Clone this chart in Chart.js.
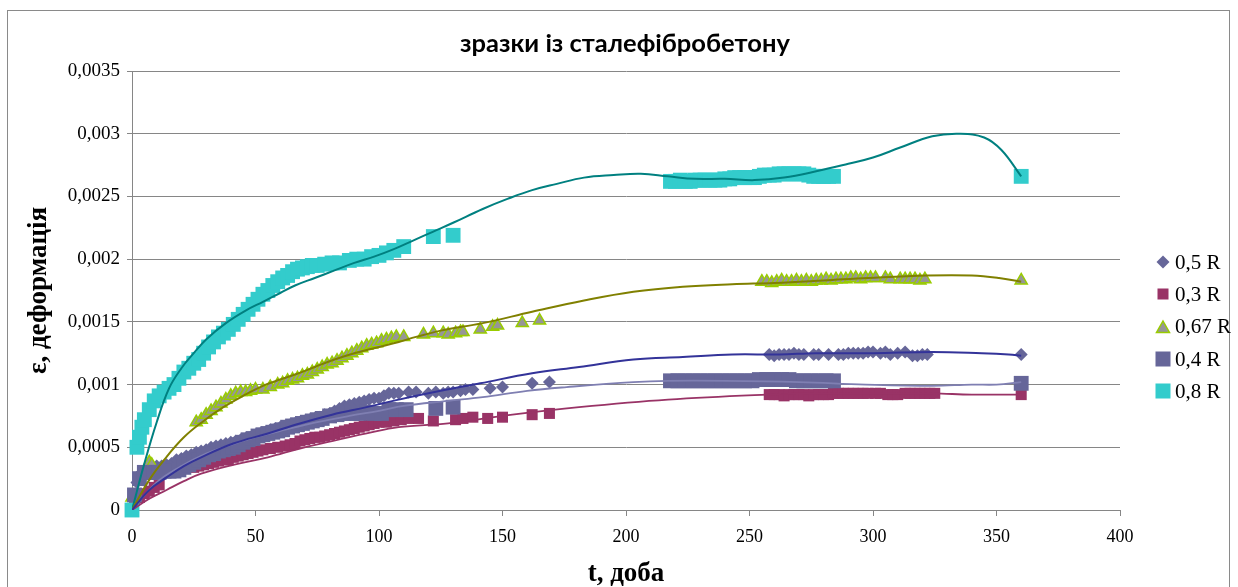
<!DOCTYPE html>
<html>
<head>
<meta charset="utf-8">
<script src="https://cdn.jsdelivr.net/npm/chart.js@4.4.0/dist/chart.umd.min.js"></script>
<style>
  html, body { margin: 0; padding: 0; background: #fff; }
  #wrap { position: relative; width: 1238px; height: 587px; overflow: hidden; }
  #frame { position: absolute; left: 7px; top: 10px; width: 1223px; height: 640px; border: 1.5px solid #8a8a8a; box-sizing: border-box; }
  #chart { position: absolute; left: 0; top: 0; }
  #title { position: absolute; left: 325px; top: 27px; width: 600px; height: 30px; line-height: 30px; text-align: center;
           font: bold 25.5px Lato, 'Liberation Sans', Arial, sans-serif; color: #000; }
  .legend { position: absolute; left: 1154px; top: 246px; font: 21px 'Liberation Serif', 'Times New Roman', serif; color: #000; }
  .legend div { display: flex; align-items: center; height: 32.3px; }
  .legend svg { width: 18px; height: 18px; margin-right: 3px; }
</style>
</head>
<body>
<div id="wrap">
  <div id="frame"></div>
  <canvas id="chart" width="1238" height="587"></canvas>
  <div id="title">зразки із сталефібробетону</div>
  <div class="legend">
    <div><svg viewBox="0 0 18 18"><polygon points="9,2.5 15.5,9 9,15.5 2.5,9" fill="#666699"/></svg>0,5 R</div>
    <div><svg viewBox="0 0 18 18"><rect x="3.5" y="3.5" width="11" height="11" fill="#993366"/></svg>0,3 R</div>
    <div><svg viewBox="0 0 18 18"><polygon points="9,3 15.5,14.5 2.5,14.5" fill="#969696" stroke="#99CC00" stroke-width="1.5"/></svg>0,67 R</div>
    <div><svg viewBox="0 0 18 18"><rect x="1.5" y="1.5" width="15" height="15" fill="#666699"/></svg>0,4 R</div>
    <div><svg viewBox="0 0 18 18"><rect x="1.5" y="1.5" width="15" height="15" fill="#33CCCC"/></svg>0,8 R</div>
  </div>
</div>
<script>
// tick labels
const xTickLabels = ['0', '50', '100', '150', '200', '250', '300', '350', '400'];
const yTickLabels = ['0', '0,0005', '0,001', '0,0015', '0,002', '0,0025', '0,003', '0,0035'];

// 0,5 R (diamonds)
const r05Days = [0, 2, 4, 6, 8, 10, 12, 14, 16, 18, 20, 22, 24, 26, 28, 30, 32, 34, 36, 38, 40, 42, 44, 46, 48, 50,
  52, 54, 56, 58, 60, 62, 64, 66, 68, 70, 72, 74, 76, 78, 80, 82, 84, 86, 88, 90, 92, 94, 96, 98, 100,
  102, 104, 106, 108, 112, 115, 120, 123, 126, 128, 130, 133, 135, 138, 145, 150, 162, 169,
  258, 260, 262, 264, 266, 268, 270, 272, 276, 278, 282, 286, 288, 290, 292, 294, 296, 298, 300, 303, 305, 307, 310, 313, 316, 318, 320, 322, 360];
const r05Vals = [0, 0.00022, 0.0003, 0.00033, 0.00034, 0.00035, 0.00035, 0.00036, 0.00037, 0.0004, 0.00041, 0.00043, 0.00044, 0.00046, 0.00047, 0.00048, 0.0005, 0.00051, 0.00052, 0.00053, 0.00054, 0.00055, 0.00056, 0.00057, 0.00058, 0.0006,
  0.00061, 0.00062, 0.00064, 0.00065, 0.00066, 0.00067, 0.00068, 0.00069, 0.0007, 0.00071, 0.00072, 0.00073, 0.00074, 0.00076, 0.00077, 0.00079, 0.00081, 0.00083, 0.00084, 0.00085, 0.00086, 0.00087, 0.00088, 0.00089, 0.00089,
  0.00091, 0.00093, 0.00093, 0.00093, 0.00094, 0.00094, 0.00093, 0.00094, 0.00093, 0.00094, 0.00094, 0.00095, 0.00096, 0.00096, 0.00097, 0.00098, 0.00101, 0.00102,
  0.00124, 0.00123, 0.00124, 0.00124, 0.00124, 0.00125, 0.00124, 0.00124, 0.00124, 0.00124, 0.00124, 0.00124, 0.00124, 0.00125, 0.00125, 0.00125, 0.00125, 0.00126, 0.00126, 0.00125, 0.00126, 0.00124, 0.00125, 0.00126, 0.00123, 0.00123, 0.00124, 0.00124, 0.00124];

// 0,3 R (small squares)
const r03Days = [1, 3, 5, 7, 9, 11, 25, 27, 29, 31, 33, 35, 37, 39, 41, 43, 45, 47, 49, 51, 53, 56, 59, 62, 64, 66, 68, 70, 72, 74, 76, 78, 80,
  82, 84, 86, 88, 90, 92, 94, 96, 98, 100, 103, 106, 109, 112, 116, 122, 131, 134, 138, 144, 150, 162, 169,
  258, 260, 262, 264, 266, 268, 270, 272, 274, 276, 278, 280, 282, 284, 286, 288, 290, 292, 294, 296, 298, 301, 303, 306, 308, 310, 313, 315, 317, 319, 321, 323, 325, 360];
const r03Vals = [0.00008, 0.0001, 0.00013, 0.00015, 0.00018, 0.0002, 0.00034, 0.00035, 0.00036, 0.00037, 0.00038, 0.00039, 0.0004, 0.0004, 0.00042, 0.00043, 0.00044, 0.00045, 0.00046, 0.00047, 0.00048, 0.00049, 0.0005, 0.00051, 0.00052, 0.00053, 0.00055, 0.00056, 0.00057, 0.00058, 0.00058, 0.00059, 0.0006,
  0.00061, 0.00062, 0.00063, 0.00064, 0.00065, 0.00066, 0.00067, 0.00068, 0.00069, 0.0007, 0.0007, 0.00071, 0.00072, 0.00073, 0.00073, 0.00071, 0.00072, 0.00073, 0.00074, 0.00073, 0.00074, 0.00076, 0.00077,
  0.00092, 0.00092, 0.00092, 0.00091, 0.00092, 0.00092, 0.00092, 0.00092, 0.00091, 0.00092, 0.00092, 0.00092, 0.00092, 0.00093, 0.00093, 0.00093, 0.00093, 0.00093, 0.00093, 0.00093, 0.00093, 0.00093, 0.00093, 0.00092, 0.00092, 0.00092, 0.00093, 0.00093, 0.00093, 0.00093, 0.00093, 0.00093, 0.00093, 0.00092];

// 0,67 R (triangles)
const r067Days = [0, 1, 7, 8, 26, 28, 30, 32, 34, 36, 38, 40, 42, 44, 46, 48, 50, 53, 56, 59, 61, 63, 65, 67, 69, 71, 73, 75, 77, 79, 81, 83, 85, 87, 89,
  91, 93, 95, 97, 99, 101, 103, 105, 107, 110, 118, 122, 126, 128, 131, 133, 134, 141, 146, 148, 158, 165,
  255, 257, 259, 261, 263, 265, 267, 269, 271, 273, 275, 277, 279, 281, 283, 285, 287, 289, 291, 293, 295, 297, 299, 301, 305, 307, 311, 313, 315, 317, 319, 321, 360];
const r067Vals = [0.0001, 0.0001, 0.00038, 0.00036, 0.0007, 0.00072, 0.00076, 0.00079, 0.00082, 0.00085, 0.00088, 0.00091, 0.00093, 0.00094, 0.00094, 0.00095, 0.00096, 0.00096, 0.00098, 0.001, 0.00101, 0.00103, 0.00104, 0.00105, 0.00107, 0.00108, 0.0011, 0.00112, 0.00114, 0.00116, 0.00117, 0.00119, 0.00121, 0.00123, 0.00125,
  0.00127, 0.00129, 0.00131, 0.00132, 0.00133, 0.00135, 0.00136, 0.00137, 0.00138, 0.00138, 0.0014, 0.00141, 0.00141, 0.0014, 0.00141, 0.00142, 0.00142, 0.00144, 0.00146, 0.00147, 0.00149, 0.00151,
  0.00182, 0.00182, 0.00181, 0.00182, 0.00183, 0.00182, 0.00182, 0.00183, 0.00182, 0.00183, 0.00182, 0.00183, 0.00183, 0.00184, 0.00183, 0.00184, 0.00184, 0.00184, 0.00185, 0.00185, 0.00184, 0.00185, 0.00185, 0.00185, 0.00185, 0.00184, 0.00184, 0.00184, 0.00184, 0.00184, 0.00183, 0.00184, 0.00183];

// 0,4 R (big squares)
const r04Days = [1, 3, 5, 7, 9, 11, 13, 15, 17, 19, 21, 23, 25, 27, 29, 31, 33, 35, 37, 39, 41, 43, 45, 47, 49, 51, 53, 55, 57, 59, 61, 63, 65, 67, 69, 71, 73, 75, 77,
  80, 83, 86, 89, 92, 95, 98, 101, 104, 107, 111, 123, 130,
  218, 221, 224, 227, 230, 233, 236, 239, 242, 245, 248, 251, 254, 257, 260, 263, 266, 269, 272, 275, 278, 281, 284, 360];
const r04Vals = [0.00012, 0.00025, 0.0003, 0.0003, 0.0003, 0.0003, 0.00031, 0.00031, 0.00031, 0.00032, 0.00034, 0.00036, 0.00038, 0.0004, 0.00042, 0.00044, 0.00045, 0.00047, 0.00048, 0.00049, 0.0005, 0.00052, 0.00054, 0.00056, 0.00057, 0.00059, 0.0006, 0.00061, 0.00062, 0.00063, 0.00064, 0.00066, 0.00067, 0.00068, 0.00069, 0.0007, 0.00071, 0.00072, 0.00073,
  0.00075, 0.00076, 0.00077, 0.00077, 0.00077, 0.00078, 0.00077, 0.00077, 0.0008, 0.0008, 0.0008, 0.00081, 0.00082,
  0.00103, 0.00103, 0.00103, 0.00103, 0.00103, 0.00103, 0.00103, 0.00103, 0.00103, 0.00103, 0.00103, 0.00103, 0.00104, 0.00104, 0.00104, 0.00104, 0.00104, 0.00103, 0.00103, 0.00103, 0.00103, 0.00103, 0.00103, 0.00101];

// 0,8 R (cyan squares)
const r08Days = [0, 2, 3, 4, 5, 7, 9, 11, 13, 15, 17, 19, 21, 23, 25, 27, 29, 31, 33, 35, 37, 39, 41, 43, 45, 47, 49, 51, 53, 55, 57, 59, 61, 63, 65, 67, 69, 71, 73, 75,
  78, 81, 84, 88, 91, 94, 97, 100, 103, 106, 110, 122, 130,
  218, 220, 222, 224, 226, 228, 230, 232, 234, 236, 238, 240, 242, 244, 246, 248, 250, 252, 254, 256, 258, 260, 262, 264, 266, 268, 270, 272, 274, 276, 278, 280, 282, 284, 360];
const r08Vals = [0, 0.0005, 0.00058, 0.00066, 0.00072, 0.0008, 0.00087, 0.00091, 0.00094, 0.00097, 0.001, 0.00105, 0.0011, 0.00113, 0.00117, 0.0012, 0.00125, 0.0013, 0.00134, 0.00138, 0.00141, 0.00144, 0.00148, 0.00152, 0.00156, 0.0016, 0.00164, 0.00168, 0.00172, 0.00175, 0.00179, 0.00182, 0.00185, 0.00187, 0.0019, 0.00192, 0.00193, 0.00194, 0.00195, 0.00195,
  0.00196, 0.00197, 0.00197, 0.00199, 0.002, 0.002, 0.00202, 0.00203, 0.00205, 0.00207, 0.0021, 0.00218, 0.00219,
  0.00262, 0.00262, 0.00263, 0.00262, 0.00262, 0.00263, 0.00263, 0.00263, 0.00263, 0.00263, 0.00263, 0.00264, 0.00264, 0.00265, 0.00265, 0.00265, 0.00265, 0.00265, 0.00266, 0.00267, 0.00267, 0.00267, 0.00268, 0.00268, 0.00268, 0.00268, 0.00268, 0.00268, 0.00267, 0.00266, 0.00266, 0.00266, 0.00266, 0.00266, 0.00266];

// trend lines
const t05Days = [0, 7, 14, 21, 28, 41, 55, 68, 81, 95, 108, 125, 141, 162, 181, 203, 223, 243, 262, 277, 300, 324, 344, 355, 360];
const t05Vals = [0, 0.00016, 0.00026, 0.00035, 0.00042, 0.00053, 0.00061, 0.00069, 0.00076, 0.00082, 0.00088, 0.00095, 0.00101, 0.00109, 0.00114, 0.0012, 0.00122, 0.00124, 0.00124, 0.00125, 0.00125, 0.00126, 0.00125, 0.00124, 0.00123];
const t03Days = [0, 7, 14, 21, 28, 41, 55, 68, 81, 95, 108, 128, 154, 181, 217, 257, 277, 300, 324, 340, 360];
const t03Vals = [0, 0.00009, 0.00016, 0.00023, 0.00029, 0.00036, 0.00042, 0.00049, 0.00055, 0.00061, 0.00066, 0.00069, 0.00076, 0.00082, 0.00088, 0.00092, 0.00093, 0.00093, 0.00093, 0.00092, 0.00092];
const t067Days = [0, 7, 13, 21, 29, 37, 45, 53, 60, 66, 74, 82, 90, 98, 108, 115, 125, 142, 162, 183, 203, 223, 243, 260, 280, 298, 322, 340, 351, 360];
const t067Vals = [0, 0.00024, 0.0004, 0.00058, 0.00071, 0.00082, 0.00091, 0.00099, 0.00104, 0.00108, 0.00114, 0.0012, 0.00125, 0.00129, 0.00134, 0.00138, 0.00143, 0.00149, 0.00158, 0.00167, 0.00174, 0.00178, 0.0018, 0.00181, 0.00183, 0.00185, 0.00187, 0.00187, 0.00185, 0.00182];
const t04Days = [0, 10, 20, 30, 40, 50, 62, 75, 88, 100, 110, 128, 142, 160, 176, 203, 217, 240, 270, 297, 324, 340, 350, 360];
const t04Vals = [0, 0.00022, 0.00035, 0.00045, 0.00052, 0.00058, 0.00064, 0.0007, 0.00075, 0.00079, 0.00083, 0.00087, 0.0009, 0.00095, 0.00098, 0.00102, 0.00103, 0.00103, 0.00102, 0.001, 0.00099, 0.001, 0.001, 0.00102];
const t08Days = [0, 5, 10, 15, 20, 25, 30, 38, 46, 53, 60, 66, 74, 82, 90, 98, 106, 114, 122, 130, 142, 152, 162, 172, 183, 195, 206, 217, 228, 240, 252, 264, 277, 290, 300, 311, 324, 335, 345, 352, 360];
const t08Vals = [0, 0.00037, 0.0007, 0.00097, 0.00113, 0.00125, 0.00136, 0.00149, 0.00159, 0.00166, 0.00173, 0.00179, 0.00185, 0.00191, 0.00197, 0.00202, 0.00208, 0.00215, 0.00222, 0.00229, 0.0024, 0.00248, 0.00255, 0.0026, 0.00265, 0.00267, 0.00268, 0.00266, 0.00264, 0.00264, 0.00263, 0.00265, 0.0027, 0.00276, 0.00281, 0.00289, 0.00298, 0.003, 0.00297, 0.00287, 0.00266];

const pts = (xs, ys) => xs.map((x, i) => ({ x: x, y: ys[i] }));

function markers(label, xs, ys, style, radius, fill, border, order) {
    return {
        label: label,
        data: pts(xs, ys),
        showLine: false,
        pointStyle: style,
        pointRadius: radius,
        pointHoverRadius: radius,
        backgroundColor: fill,
        borderColor: border || fill,
        borderWidth: border ? 1.5 : 0,
        clip: false,
        order: order
    };
}

function trend(xs, ys, color, width) {
    return {
        label: 'trend',
        data: pts(xs, ys),
        showLine: true,
        pointRadius: 0,
        borderColor: color,
        borderWidth: width,
        tension: 0.4,
        fill: false,
        order: 0
    };
}

const serif = "'Liberation Serif', 'Times New Roman', serif";

new Chart(document.getElementById('chart'), {
    type: 'scatter',
    data: {
        datasets: [
            markers('0,5 R', r05Days, r05Vals, 'rectRot', 6.5, '#666699', null, 5),
            markers('0,3 R', r03Days, r03Vals, 'rect', 7.8, '#993366', null, 4),
            markers('0,67 R', r067Days, r067Vals, 'triangle', 7, '#969696', '#99CC00', 3),
            markers('0,4 R', r04Days, r04Vals, 'rect', 10.5, '#666699', null, 2),
            markers('0,8 R', r08Days, r08Vals, 'rect', 10.5, '#33CCCC', null, 1),
            trend(t05Days, t05Vals, '#333399', 2),
            trend(t03Days, t03Vals, '#993366', 1.8),
            trend(t067Days, t067Vals, '#808000', 2),
            trend(t04Days, t04Vals, '#7F7FB2', 1.8),
            trend(t08Days, t08Vals, '#008080', 2)
        ]
    },
    options: {
        responsive: false,
        animation: false,
        events: [],
        layout: { padding: { left: 0, top: 71, right: 118, bottom: 0 } },
        plugins: {
            legend: { display: false },
            tooltip: { enabled: false },
            title: { display: false }
        },
        scales: {
            x: {
                type: 'linear',
                min: 0,
                max: 400,
                afterFit: (s) => { s.height = 77; },
                ticks: {
                    stepSize: 50,
                    color: '#000',
                    padding: 10,
                    font: { family: serif, size: 18 },
                    callback: (v, i) => xTickLabels[i]
                },
                grid: { drawOnChartArea: false, drawTicks: true, tickLength: 6, color: '#868686' },
                border: { display: true, color: '#868686', width: 1 },
                title: {
                    display: true,
                    text: 't, доба',
                    color: '#000',
                    font: { family: serif, size: 27, weight: 'bold', lineHeight: 1 },
                    padding: { top: 0, bottom: -1 }
                }
            },
            y: {
                min: 0,
                max: 0.0035,
                afterFit: (s) => { s.width = 132; },
                ticks: {
                    stepSize: 0.0005,
                    color: '#000',
                    padding: 7,
                    font: { family: serif, size: 19 },
                    callback: (v, i) => yTickLabels[i]
                },
                grid: { color: '#868686', lineWidth: 1, drawTicks: true, tickLength: 5 },
                border: { display: true, color: '#868686', width: 1 },
                title: {
                    display: true,
                    text: 'ε, деформація',
                    color: '#000',
                    font: { family: serif, size: 27, weight: 'bold', lineHeight: 1 },
                    padding: { top: 26, bottom: 0 }
                }
            }
        }
    }
});
</script>
</body>
</html>
